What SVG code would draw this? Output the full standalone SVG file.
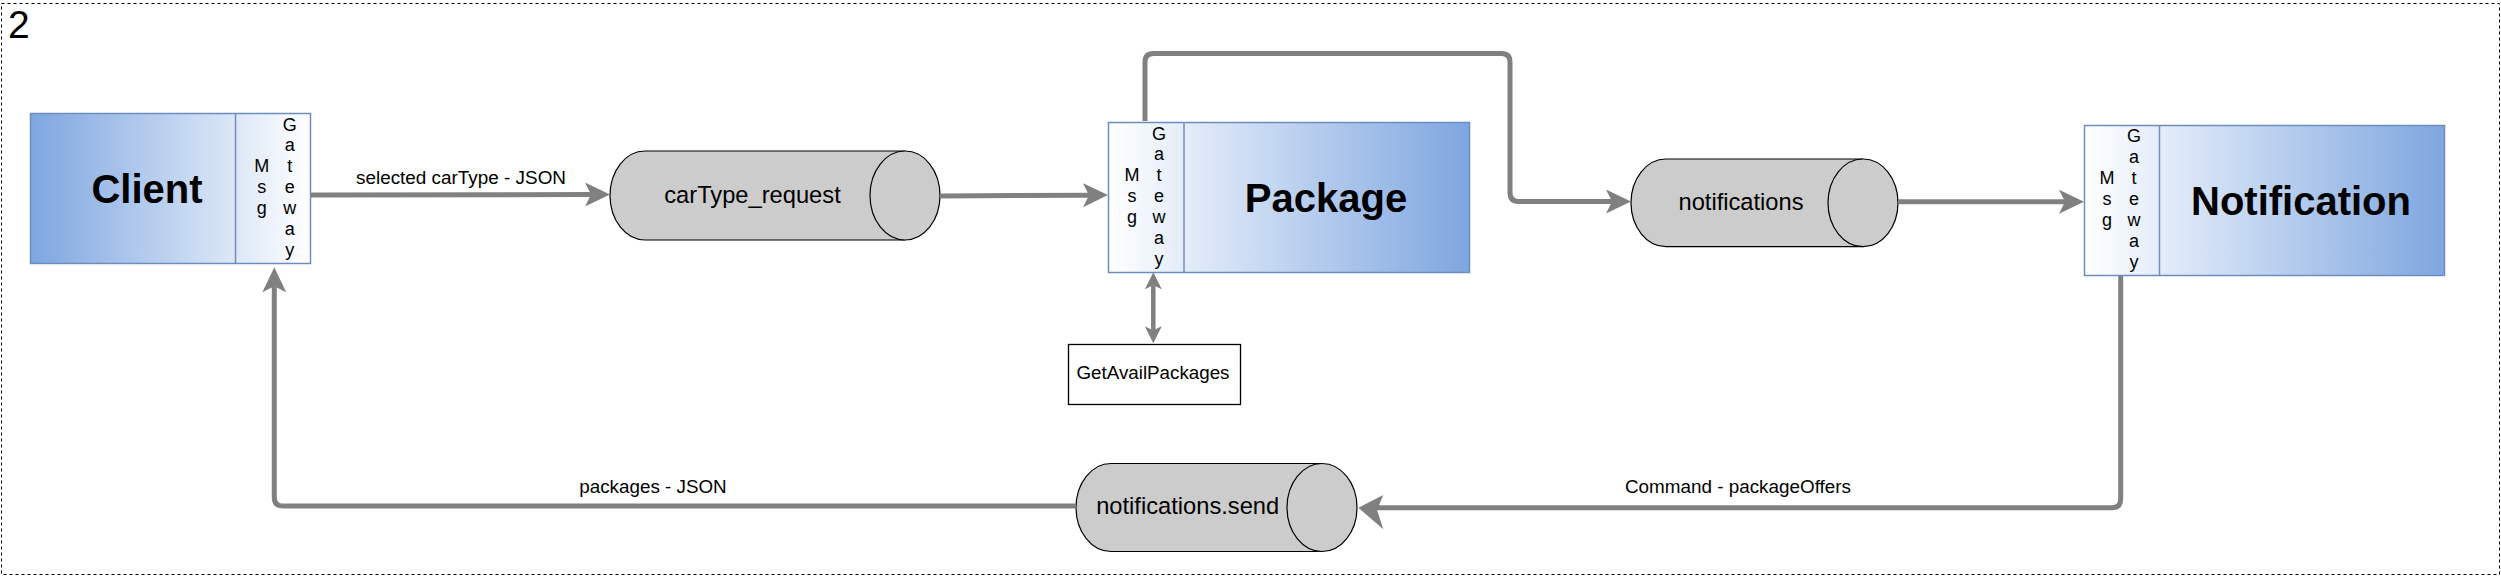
<svg xmlns="http://www.w3.org/2000/svg" width="2501" height="576" viewBox="0 0 2501 576">
<style>
  text { font-family: "Liberation Sans", Arial, Helvetica, sans-serif; fill: #000; }
  .title { font-size: 40px; font-weight: bold; text-anchor: middle; }
  .gw { font-size: 18px; text-anchor: middle; }
  .lbl { font-size: 18.7px; }
  .cyl-t { font-size: 23.7px; text-anchor: middle; }
  .box { stroke: #6C8EBF; stroke-width: 1.5; }
  .div { stroke: #6C8EBF; stroke-width: 1.5; }
  .cyl { fill: #CCCCCC; stroke: #000; stroke-width: 1.2; }
  .edge { fill: none; stroke: #808080; stroke-width: 5; }
  .edge-s { fill: none; stroke: #808080; stroke-width: 4.5; }
</style>
<defs>
  <linearGradient id="gBlueWhite" x1="0" y1="0" x2="1" y2="0">
    <stop offset="0" stop-color="#7EA6E0"/>
    <stop offset="1" stop-color="#FFFFFF"/>
  </linearGradient>
  <linearGradient id="gWhiteBlue" x1="0" y1="0" x2="1" y2="0">
    <stop offset="0" stop-color="#FFFFFF"/>
    <stop offset="1" stop-color="#7EA6E0"/>
  </linearGradient>
  <marker id="arr" viewBox="0 0 25 24" refX="6" refY="12" markerWidth="25" markerHeight="24" markerUnits="userSpaceOnUse" orient="auto">
    <path d="M25,12 L0,0 L6,12 L0,24 Z" fill="#808080"/>
  </marker>
  <marker id="arrSm" viewBox="0 0 17 17" refX="4" refY="8.5" markerWidth="17" markerHeight="17" markerUnits="userSpaceOnUse" orient="auto-start-reverse">
    <path d="M17,8.5 L0,0 L4,8.5 L0,17 Z" fill="#808080"/>
  </marker>
</defs>

<rect x="0" y="0" width="2501" height="576" fill="#FFFFFF"/>

<!-- frame -->
<g id="frame">
  <rect x="1.5" y="3.5" width="2498" height="571" fill="none" stroke="#000" stroke-width="1" stroke-dasharray="3,3"/>
  <text x="8" y="38" style="font-size:39px">2</text>
</g>

<!-- Client -->
<g id="client">
  <rect class="box" x="30.5" y="113.5" width="280" height="150" fill="url(#gBlueWhite)"/>
  <line class="div" x1="235.5" y1="113.5" x2="235.5" y2="263.5"/>
  <text class="title" x="147" y="202.5">Client</text>
  <text class="gw" x="261.7"><tspan x="261.7" y="172.3">M</tspan><tspan x="261.7" y="193.2">s</tspan><tspan x="261.7" y="214.1">g</tspan></text>
  <text class="gw" x="289.7"><tspan x="289.7" y="130.5">G</tspan><tspan x="289.7" y="151.4">a</tspan><tspan x="289.7" y="172.3">t</tspan><tspan x="289.7" y="193.2">e</tspan><tspan x="289.7" y="214.1">w</tspan><tspan x="289.7" y="235">a</tspan><tspan x="289.7" y="255.9">y</tspan></text>
</g>

<!-- carType_request queue -->
<g id="carType_request">
  <path class="cyl" d="M645,151 H905 A35,44.5 0 0 1 905,240 H645 A35,44.5 0 0 1 645,151 Z"/>
  <path class="cyl" fill="none" d="M905,151 A35,44.5 0 0 0 905,240"/>
  <text class="cyl-t" x="752.5" y="203.3">carType_request</text>
</g>

<!-- Package -->
<g id="package">
  <rect class="box" x="1108.5" y="122.5" width="361" height="150" fill="url(#gWhiteBlue)"/>
  <line class="div" x1="1184" y1="122.5" x2="1184" y2="272.5"/>
  <text class="title" x="1326" y="212.3">Package</text>
  <text class="gw" x="1132"><tspan x="1132" y="181.3">M</tspan><tspan x="1132" y="202.2">s</tspan><tspan x="1132" y="223.1">g</tspan></text>
  <text class="gw" x="1159"><tspan x="1159" y="139.5">G</tspan><tspan x="1159" y="160.4">a</tspan><tspan x="1159" y="181.3">t</tspan><tspan x="1159" y="202.2">e</tspan><tspan x="1159" y="223.1">w</tspan><tspan x="1159" y="244">a</tspan><tspan x="1159" y="264.9">y</tspan></text>
</g>

<!-- GetAvailPackages -->
<g id="getAvailPackages">
  <rect x="1068.5" y="344.5" width="172" height="60" fill="#FFFFFF" stroke="#000" stroke-width="1.3"/>
  <text class="lbl" x="1153" y="379.3" text-anchor="middle" textLength="153" lengthAdjust="spacingAndGlyphs">GetAvailPackages</text>
</g>

<!-- notifications queue -->
<g id="notifications">
  <path class="cyl" d="M1666,159 H1863 A35,43.8 0 0 1 1863,246.6 H1666 A35,43.8 0 0 1 1666,159 Z"/>
  <path class="cyl" fill="none" d="M1863,159 A35,43.8 0 0 0 1863,246.6"/>
  <text class="cyl-t" x="1741" y="210">notifications</text>
</g>

<!-- Notification -->
<g id="notification">
  <rect class="box" x="2084.5" y="125.5" width="360" height="150" fill="url(#gWhiteBlue)"/>
  <line class="div" x1="2159.5" y1="125.5" x2="2159.5" y2="275.5"/>
  <text class="title" x="2301" y="215">Notification</text>
  <text class="gw" x="2107"><tspan x="2107" y="184.1">M</tspan><tspan x="2107" y="205">s</tspan><tspan x="2107" y="225.9">g</tspan></text>
  <text class="gw" x="2134"><tspan x="2134" y="142.3">G</tspan><tspan x="2134" y="163.2">a</tspan><tspan x="2134" y="184.1">t</tspan><tspan x="2134" y="205">e</tspan><tspan x="2134" y="225.9">w</tspan><tspan x="2134" y="246.8">a</tspan><tspan x="2134" y="267.7">y</tspan></text>
</g>

<!-- notifications.send queue -->
<g id="notifications_send">
  <path class="cyl" d="M1111,463.5 H1322 A35,44 0 0 1 1322,551.5 H1111 A35,44 0 0 1 1111,463.5 Z"/>
  <path class="cyl" fill="none" d="M1322,463.5 A35,44 0 0 0 1322,551.5"/>
  <text class="cyl-t" x="1187.7" y="514">notifications.send</text>
</g>

<!-- connectors -->
<g id="connectors">
  <path class="edge" d="M311,195 L591,194.5" marker-end="url(#arr)"/>
  <path class="edge" d="M940,196 L1089,195.2" marker-end="url(#arr)"/>
  <path class="edge" d="M1145,121 V62 Q1145,53.5 1153.5,53.5 H1501.5 Q1510,53.5 1510,62 V192.5 Q1510,201.5 1518.5,201.5 H1612" marker-end="url(#arr)"/>
  <path class="edge" d="M1898,201.7 H2065" marker-end="url(#arr)"/>
  <path class="edge-s" d="M1153.3,285.3 V330.3" marker-start="url(#arrSm)" marker-end="url(#arrSm)"/>
  <path class="edge" d="M2120.7,276 V499 Q2120.7,507.7 2112,507.7 H1377"/>
  <path d="M1358.3,507.7 L1383.3,495 L1377,510 L1383.3,529.3 Z" fill="#808080"/>
  <path class="edge" d="M1076,506 H283 Q274.3,506 274.3,497.5 V286.3" marker-end="url(#arr)"/>
  <text class="lbl" x="356" y="184" textLength="210" lengthAdjust="spacingAndGlyphs">selected carType - JSON</text>
  <text class="lbl" x="579.3" y="493.3" textLength="147.4" lengthAdjust="spacingAndGlyphs">packages - JSON</text>
  <text class="lbl" x="1625" y="492.7" textLength="226" lengthAdjust="spacingAndGlyphs">Command - packageOffers</text>
</g>
</svg>
